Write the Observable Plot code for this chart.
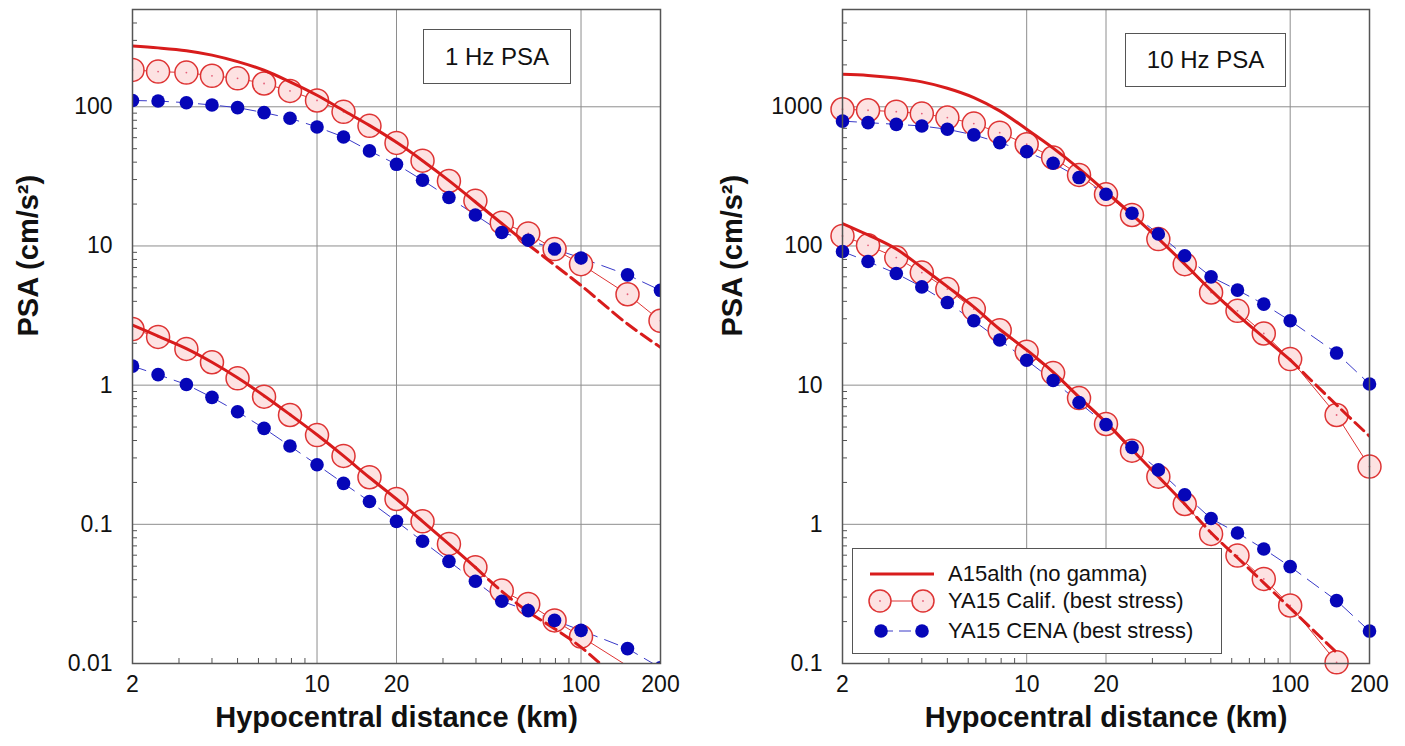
<!DOCTYPE html>
<html>
<head>
<meta charset="utf-8">
<script src="https://cdn.jsdelivr.net/npm/d3@7"></script>
<script src="https://cdn.jsdelivr.net/npm/@observablehq/plot@0.6"></script>
<style>
  html, body { margin: 0; padding: 0; background: #fff; }
  body { font-family: "Liberation Sans", Arial, Helvetica, sans-serif; }
  #wrap { position: relative; width: 1405px; height: 746px; overflow: hidden; }
  .panel { position: absolute; top: 0; }
  .tbox { position: absolute; box-sizing: border-box; border: 1.5px solid #555; background: #fff;
          font-size: 24px; color: #111; display: flex; align-items: center; justify-content: center; }
  .legend { position: absolute; box-sizing: border-box; border: 1.5px solid #555; background: #fff; }
  .legend .row { position: absolute; left: 0; height: 30px; width: 100%; }
  .legend .row span { position: absolute; left: 95px; top: 0; line-height: 30px; font-size: 22px; color: #111; white-space: nowrap; }
  .legend .row svg { position: absolute; left: 0; top: 0; }
</style>
</head>
<body>
<div id="wrap"></div>
<script>
// ---------------- data ----------------
const distance = [2, 2.5, 3.2, 4, 5, 6.3, 7.9, 10, 12.6, 15.8, 20, 25.1, 31.6, 39.8, 50.1, 63.1, 79.4, 100, 150, 200];

// 1 Hz PSA panel
const hz1A15High   = [273, 265, 253, 235, 211, 183, 151, 121, 94, 73.5, 55.5, 41, 29.5, 20.7, 14.5, 10.2, 7.3, 5.2, 2.75, 1.87];
const hz1A15Low    = [2.7, 2.25, 1.83, 1.46, 1.13, 0.84, 0.615, 0.44, 0.31, 0.217, 0.152, 0.105, 0.072, 0.049, 0.033, 0.0235, 0.0178, 0.0131, 0.0066, null];
const hz1CalifHigh = [184, 179, 176, 167, 160, 147, 130, 111, 92, 73, 55, 41, 29.3, 21.1, 14.7, 12.3, 9.5, 7.4, 4.5, 2.9];
const hz1CalifLow  = [2.53, 2.22, 1.82, 1.46, 1.12, 0.826, 0.61, 0.438, 0.31, 0.218, 0.152, 0.105, 0.0723, 0.0492, 0.0334, 0.0268, 0.0204, 0.0156, null, 0.0068];
const hz1CenaHigh  = [111, 110, 107, 103, 98.6, 90.8, 82.7, 71.6, 60.7, 48.2, 38.6, 29.7, 22.3, 16.7, 12.5, 11.0, 9.5, 8.2, 6.2, 4.8];
const hz1CenaLow   = [1.37, 1.19, 1.01, 0.817, 0.644, 0.489, 0.365, 0.268, 0.197, 0.146, 0.105, 0.0755, 0.0542, 0.039, 0.028, 0.024, 0.0204, 0.0173, 0.0128, 0.0093];
const hz1DashFrom  = [63.1, 39.8];   // distance where the A15 curve turns dashed (high, low)

// 10 Hz PSA panel
const hz10A15High   = [1710, 1680, 1610, 1510, 1360, 1165, 935, 690, 505, 360, 245, 168, 113, 74, 48, 32, 22, 15.2, 7.2, 4.3];
const hz10A15Low    = [145, 120, 95, 70, 51, 36.5, 25.2, 17.9, 12.4, 8.2, 5.4, 3.45, 2.2, 1.40, 0.87, 0.575, 0.38, 0.25, 0.12, null];
const hz10CalifHigh = [960, 944, 922, 893, 836, 757, 652, 538, 432, 324, 235, 167, 112, 74, 46.3, 34.2, 23.5, 15.4, 6.1, 2.6];
const hz10CalifLow  = [118, 101, 82.5, 64.4, 49, 35.2, 24.8, 17.4, 12.2, 8.07, 5.26, 3.38, 2.2, 1.40, 0.853, 0.596, 0.405, 0.261, 0.102, null];
const hz10CenaHigh  = [789, 769, 748, 728, 689, 628, 553, 476, 393, 310, 235, 172, 122, 85, 60, 48.2, 38.2, 29, 17, 10.2];
const hz10CenaLow   = [91.2, 77.3, 63.4, 50.8, 39.2, 29, 21.1, 15.1, 10.8, 7.5, 5.2, 3.57, 2.46, 1.63, 1.10, 0.867, 0.665, 0.497, 0.283, 0.171];
const hz10DashFrom  = [100, 39.8];

// axes / ticks
const xDomain = [2, 200];
const xTickLabels = [2, 10, 20, 100, 200];
const xGridValues = [10, 20, 100];
const xMinorTicks = [3, 4, 5, 6, 7, 8, 9, 30, 40, 50, 60, 70, 80, 90];
const hz1YDomain = [0.01, 500];
const hz1YTicks = [0.01, 0.1, 1, 10, 100];
const hz1YMinor = [0.02,0.03,0.04,0.05,0.06,0.07,0.08,0.09, 0.2,0.3,0.4,0.5,0.6,0.7,0.8,0.9, 2,3,4,5,6,7,8,9, 20,30,40,50,60,70,80,90, 200,300,400];
const hz10YDomain = [0.1, 5000];
const hz10YTicks = [0.1, 1, 10, 100, 1000];
const hz10YMinor = [0.2,0.3,0.4,0.5,0.6,0.7,0.8,0.9, 2,3,4,5,6,7,8,9, 20,30,40,50,60,70,80,90, 200,300,400,500,600,700,800,900, 2000,3000,4000];

const panelTitles = ["1 Hz PSA", "10 Hz PSA"];
const xTitle = "Hypocentral distance (km)";
const yTitle = "PSA (cm/s²)";
const legendLabels = ["A15alth (no gamma)", "YA15 Calif. (best stress)", "YA15 CENA (best stress)"];

// ---------------- styling ----------------
const FONT = '"Liberation Sans", Arial, Helvetica, sans-serif';
const RED = "#d81c1c";
const CIRC_STROKE = "#de3434";
const CIRC_FILL = "#fde2e2";
const BLUE = "#0606b8";
const GRID = "#8e8e8e";
const AXIS = "#555";

function rows(values) {
  return distance.map((d, i) => ({d, v: values[i]})).filter(r => r.v != null);
}

function a15Marks(values, dashFrom) {
  const r = rows(values);
  return [
    Plot.line(r.filter(p => p.d <= dashFrom), {x: "d", y: "v", stroke: RED, strokeWidth: 3, curve: "catmull-rom", clip: true}),
    Plot.line(r.filter(p => p.d >= dashFrom), {x: "d", y: "v", stroke: RED, strokeWidth: 3, strokeDasharray: "12,6", curve: "catmull-rom", clip: true})
  ];
}
function califLine(values) {
  return Plot.line(rows(values), {x: "d", y: "v", stroke: CIRC_STROKE, strokeWidth: 1, clip: true});
}
function califDots(values, clip) {
  const r = rows(values);
  return [
    Plot.dot(r, {x: "d", y: "v", r: 11.5, fill: CIRC_FILL, stroke: CIRC_STROKE, strokeWidth: 1.5, clip}),
    Plot.dot(r, {x: "d", y: "v", r: 0.9, fill: "#e4607a", clip})
  ];
}
function cenaLine(values) {
  return Plot.line(rows(values), {x: "d", y: "v", stroke: "#3a3ac8", strokeWidth: 1, strokeDasharray: "14,8", clip: true});
}
function cenaDots(values, clip) {
  return Plot.dot(rows(values), {x: "d", y: "v", r: 6.8, fill: BLUE, stroke: "none", clip});
}

function panel(cfg) {
  const fw = cfg.width - cfg.ml - cfg.mr;
  const fh = 746 - 9 - 83;
  return Plot.plot({
    width: cfg.width,
    height: 746,
    marginLeft: cfg.ml,
    marginRight: cfg.mr,
    marginTop: 9,
    marginBottom: 83,
    style: {fontFamily: FONT, background: "transparent", color: "#111", overflow: "visible"},
    x: {type: "log", domain: xDomain},
    y: {type: "log", domain: cfg.yDomain},
    marks: [
      Plot.gridX(xGridValues, {stroke: GRID, strokeOpacity: 1, strokeWidth: 1}),
      Plot.gridY(cfg.yTicks, {stroke: GRID, strokeOpacity: 1, strokeWidth: 1}),
      Plot.tickX(xMinorTicks, {x: d => d, insetTop: fh - 5, stroke: AXIS, strokeWidth: 1}),
      Plot.tickY(cfg.yMinor, {y: d => d, insetRight: fw - 5, stroke: AXIS, strokeWidth: 1}),
      Plot.axisX(xTickLabels, {tickSize: 0, tickPadding: 12, fontSize: 23, tickFormat: d => String(d), label: null}),
      Plot.axisY(cfg.yTicks, {tickSize: 0, tickPadding: 20, fontSize: 23, tickFormat: d => String(d), label: null}),
      califLine(cfg.califHigh),
      califLine(cfg.califLow),
      cenaLine(cfg.cenaHigh),
      cenaLine(cfg.cenaLow),
      ...califDots(cfg.califHigh, cfg.clipDots),
      ...califDots(cfg.califLow, cfg.clipDots),
      ...a15Marks(cfg.a15High, cfg.dashFrom[0]),
      ...a15Marks(cfg.a15Low, cfg.dashFrom[1]),
      cenaDots(cfg.cenaHigh, cfg.clipDots),
      cenaDots(cfg.cenaLow, cfg.clipDots),
      Plot.frame({stroke: AXIS, strokeWidth: 1.5}),
      Plot.text([xTitle], {text: d => d, frameAnchor: "bottom", dy: 63, fontSize: 29, fontWeight: "bold", fill: "#111"}),
      Plot.text([yTitle], {text: d => d, frameAnchor: "left", rotate: -90, dx: cfg.yTitleDx, fontSize: 29, fontWeight: "bold", fill: "#111"})
    ]
  });
}

const wrap = document.getElementById("wrap");

const left = panel({
  width: 702, ml: 132, mr: 42,
  yDomain: hz1YDomain, yTicks: hz1YTicks, yMinor: hz1YMinor,
  a15High: hz1A15High, a15Low: hz1A15Low,
  califHigh: hz1CalifHigh, califLow: hz1CalifLow,
  cenaHigh: hz1CenaHigh, cenaLow: hz1CenaLow,
  dashFrom: hz1DashFrom, yTitleDx: -104, clipDots: true
});
left.classList.add("panel");
left.style.left = "0px";
wrap.appendChild(left);

const right = panel({
  width: 703, ml: 140, mr: 36,
  yDomain: hz10YDomain, yTicks: hz10YTicks, yMinor: hz10YMinor,
  a15High: hz10A15High, a15Low: hz10A15Low,
  califHigh: hz10CalifHigh, califLow: hz10CalifLow,
  cenaHigh: hz10CenaHigh, cenaLow: hz10CenaLow,
  dashFrom: hz10DashFrom, yTitleDx: -110, clipDots: false
});
right.classList.add("panel");
right.style.left = "702px";
wrap.appendChild(right);

// panel title boxes
function titleBox(text, l, t, w, h) {
  const d = document.createElement("div");
  d.className = "tbox";
  d.style.left = l + "px"; d.style.top = t + "px";
  d.style.width = w + "px"; d.style.height = h + "px";
  d.textContent = text;
  wrap.appendChild(d);
}
titleBox(panelTitles[0], 423, 29, 148, 55);
titleBox(panelTitles[1], 1125, 33, 161, 54);

// legend
const lg = document.createElement("div");
lg.className = "legend";
Object.assign(lg.style, {left: "852px", top: "548px", width: "370px", height: "106px"});
const swatches = [
  `<line x1="17" x2="81" y1="15" y2="15" stroke="${RED}" stroke-width="3"/>`,
  `<line x1="27" x2="70" y1="15" y2="15" stroke="${CIRC_STROKE}" stroke-width="1"/>
   <circle cx="27" cy="15" r="11" fill="${CIRC_FILL}" stroke="${CIRC_STROKE}" stroke-width="1.5"/>
   <circle cx="70" cy="15" r="11" fill="${CIRC_FILL}" stroke="${CIRC_STROKE}" stroke-width="1.5"/>
   <circle cx="27" cy="15" r="0.9" fill="#e4607a"/><circle cx="70" cy="15" r="0.9" fill="#e4607a"/>`,
  `<line x1="28" x2="69" y1="15" y2="15" stroke="#3a3ac8" stroke-width="1" stroke-dasharray="12,6"/>
   <circle cx="28" cy="15" r="6.8" fill="${BLUE}"/>
   <circle cx="69" cy="15" r="6.8" fill="${BLUE}"/>`
];
const rowTops = [10, 37, 67];
legendLabels.forEach((label, i) => {
  const row = document.createElement("div");
  row.className = "row";
  row.style.top = rowTops[i] + "px";
  row.innerHTML = `<svg width="95" height="30">${swatches[i]}</svg><span>${label}</span>`;
  lg.appendChild(row);
});
wrap.appendChild(lg);
</script>
</body>
</html>
